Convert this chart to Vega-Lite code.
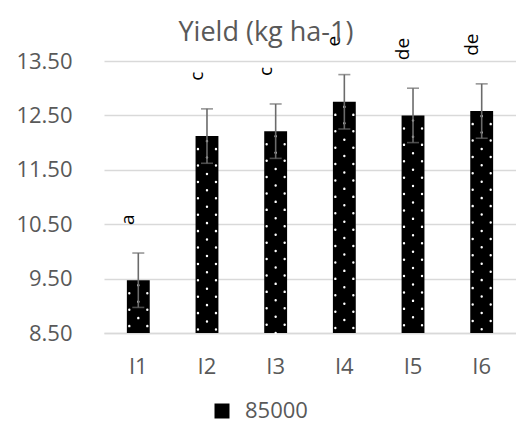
{
  "$schema": "https://vega.github.io/schema/vega-lite/v6.json",
  "width": 412,
  "height": 272,
  "autosize": "none",
  "padding": {"left": 104, "top": 61, "right": 0, "bottom": 93},
  "background": "white",
  "config": {
    "font": "Open Sans",
    "view": {"stroke": null},
    "axis": {"labelColor": "#595959", "labelFont": "Open Sans", "labelFontSize": 22, "ticks": false, "gridColor": "#d9d9d9", "gridWidth": 1.5, "title": null},
    "legend": {"labelColor": "#595959", "labelFont": "Open Sans", "labelFontSize": 22}
  },
  "title": {"text": "Yield (kg ha-1)", "fontSize": 27, "font": "Open Sans", "fontWeight": "normal", "color": "#595959", "frame": "bounds", "anchor": "middle", "offset": -13},
  "data": {
    "values": [
      {"treatment": "I1", "yield": 9.47, "lo": 8.97, "hi": 9.97, "letter": "a", "series": "85000"},
      {"treatment": "I2", "yield": 12.12, "lo": 11.62, "hi": 12.62, "letter": "c", "series": "85000"},
      {"treatment": "I3", "yield": 12.21, "lo": 11.71, "hi": 12.71, "letter": "c", "series": "85000"},
      {"treatment": "I4", "yield": 12.75, "lo": 12.25, "hi": 13.25, "letter": "e", "series": "85000"},
      {"treatment": "I5", "yield": 12.5, "lo": 12.0, "hi": 13.0, "letter": "de", "series": "85000"},
      {"treatment": "I6", "yield": 12.58, "lo": 12.08, "hi": 13.08, "letter": "de", "series": "85000"}
    ]
  },
  "encoding": {
    "x": {"field": "treatment", "type": "nominal", "sort": null,
      "scale": {"paddingInner": 0.667, "paddingOuter": 0.333},
      "axis": {"labelAngle": 0, "labelPadding": 23, "domainColor": "#d9d9d9", "domainWidth": 1.5, "grid": false}}
  },
  "layer": [
    {
      "mark": {"type": "bar"},
      "encoding": {
        "y": {"field": "yield", "type": "quantitative",
          "scale": {"domain": [8.5, 13.5], "nice": false, "zero": false},
          "axis": {"values": [8.5, 9.5, 10.5, 11.5, 12.5, 13.5], "format": ".2f", "domain": false, "labelPadding": 32}},
        "y2": {"datum": 8.5},
        "color": {"field": "series", "type": "nominal", "scale": {"range": ["#000000"]},
          "legend": {"title": null, "orient": "none", "legendX": 107, "legendY": 339, "symbolType": "square", "symbolSize": 225, "labelOffset": 12}}
      }
    },
    {
      "mark": {"type": "rule", "stroke": "white", "strokeWidth": 2.4, "strokeCap": "round", "strokeDash": [0.1, 16.3], "strokeDashOffset": -5},
      "encoding": {"y": {"field": "yield", "type": "quantitative"}, "y2": {"datum": 8.5}}
    },
    {
      "mark": {"type": "rule", "stroke": "white", "strokeWidth": 2.4, "strokeCap": "round", "strokeDash": [0.1, 16.3], "strokeDashOffset": -13, "xOffset": -9},
      "encoding": {"y": {"field": "yield", "type": "quantitative"}, "y2": {"datum": 8.5}}
    },
    {
      "mark": {"type": "rule", "stroke": "white", "strokeWidth": 2.4, "strokeCap": "round", "strokeDash": [0.1, 16.3], "strokeDashOffset": -13, "xOffset": 9},
      "encoding": {"y": {"field": "yield", "type": "quantitative"}, "y2": {"datum": 8.5}}
    },
    {
      "mark": {"type": "rule", "stroke": "#6b6b6b", "strokeWidth": 1.6},
      "encoding": {"y": {"field": "lo", "type": "quantitative"}, "y2": {"field": "hi"}}
    },
    {
      "mark": {"type": "tick", "color": "#6b6b6b", "thickness": 1.6, "size": 12},
      "encoding": {"y": {"field": "hi", "type": "quantitative"}}
    },
    {
      "mark": {"type": "tick", "color": "#6b6b6b", "thickness": 1.6, "size": 12},
      "encoding": {"y": {"field": "lo", "type": "quantitative"}}
    },
    {
      "mark": {"type": "text", "angle": 270, "align": "left", "baseline": "middle", "dx": 28, "dy": -10, "fontSize": 19, "color": "#000000", "font": "Open Sans"},
      "encoding": {"y": {"field": "hi", "type": "quantitative"}, "text": {"field": "letter"}}
    }
  ]
}
